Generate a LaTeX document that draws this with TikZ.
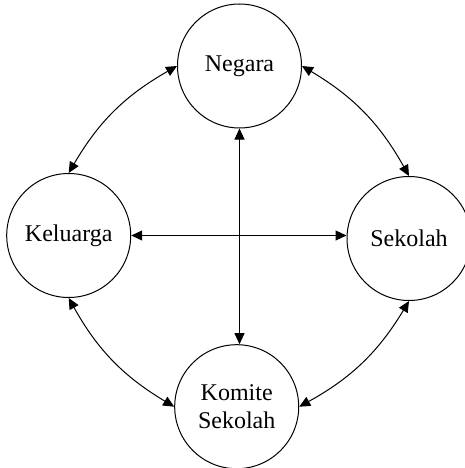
\documentclass[tikz,border=0pt]{standalone}
\usepackage{fontspec}
\setmainfont{Liberation Serif}
\usetikzlibrary{arrows.meta}
\begin{document}
\begin{tikzpicture}[x=1pt,y=-1pt,
  ent/.style={draw,circle,line width=1pt,minimum size=124pt,inner sep=0pt,align=center,
    font=\fontsize{24}{28.5}\selectfont},
  link/.style={line width=1pt,{Triangle[length=11pt,width=10pt]}-{Triangle[length=11pt,width=10pt]}}]
\useasboundingbox (0,0) rectangle (465,468);
\node[ent] (neg) at (239.5,66) {Negara};
\node[ent] (kel) at (68.7,235.5) {Keluarga};
\node[ent] (sek) at (409,238.5) {Sekolah};
\node[ent] (kom) at (236.7,406.7) {Komite\\Sekolah};
\draw[link] (kel.north) to[bend left=15] (neg.west);
\draw[link] (neg.east) to[bend left=15] (sek.north);
\draw[link] (sek.south) to[bend left=15] (kom.east);
\draw[link] (kom.west) to[bend left=15] (kel.south);
\draw[link] (neg.south) -- (neg.south |- kom.north);
\draw[link] (kel.east) -- (kel.east -| sek.west);
\end{tikzpicture}
\end{document}
